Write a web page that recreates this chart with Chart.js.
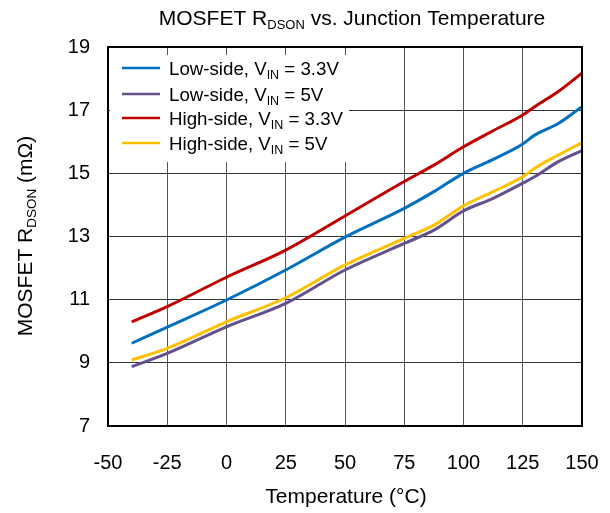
<!DOCTYPE html>
<html>
<head>
<meta charset="utf-8">
<script src="https://cdn.jsdelivr.net/npm/chart.js@4"></script>
<style>
  html, body { margin: 0; padding: 0; background: #fff; }
  #wrap { width: 610px; height: 513px; }
</style>
</head>
<body>
<div id="wrap"><canvas id="rdsonChart" width="610" height="513"></canvas></div>
<script>
// temperature points (°C) and R_DSON readings (mΩ) for each curve
const temps       = [-40, -25, 0, 25, 50, 75, 87.5, 100, 112.5, 125, 130, 140, 150];
const lowSide33   = [9.62, 10.13, 10.99, 11.94, 12.98, 13.89, 14.42, 15.0, 15.44, 15.93, 16.21, 16.58, 17.11];
const lowSide5    = [8.88, 9.30, 10.14, 10.88, 11.94, 12.78, 13.20, 13.81, 14.21, 14.69, 14.89, 15.37, 15.72];
const highSide33  = [10.30, 10.78, 11.71, 12.57, 13.65, 14.74, 15.26, 15.84, 16.35, 16.85, 17.11, 17.59, 18.17];
const highSide5   = [9.09, 9.46, 10.30, 11.06, 12.10, 12.94, 13.36, 13.97, 14.42, 14.89, 15.16, 15.58, 15.97];

const xTicks = [-50, -25, 0, 25, 50, 75, 100, 125, 150];
const yTicks = [7, 9, 11, 13, 15, 17, 19];

// legend text: main part, subscript, rest
const seriesNames = [
    ['Low-side, V', 'IN', ' = 3.3V'],
    ['Low-side, V', 'IN', ' = 5V'],
    ['High-side, V', 'IN', ' = 3.3V'],
    ['High-side, V', 'IN', ' = 5V']
];
const seriesColors = ['#0070C0', '#64508A', '#C00000', '#FFC000'];
const seriesData = [lowSide33, lowSide5, highSide33, highSide5];

const FONT = '"Liberation Sans", Arial, sans-serif';

function toPoints(values) {
    return temps.map((t, i) => ({ x: t, y: values[i] }));
}

// draws text with a subscript piece, returns total width
function drawSubText(ctx, parts, x, y, size, subSize, align) {
    ctx.font = size + 'px ' + FONT;
    const w0 = ctx.measureText(parts[0]).width;
    const w2 = ctx.measureText(parts[2]).width;
    ctx.font = subSize + 'px ' + FONT;
    const w1 = ctx.measureText(parts[1]).width;
    const total = w0 + w1 + w2;
    let sx = align === 'center' ? x - total / 2 : x;
    ctx.textAlign = 'left';
    ctx.textBaseline = 'alphabetic';
    ctx.font = size + 'px ' + FONT;
    ctx.fillText(parts[0], sx, y);
    ctx.font = subSize + 'px ' + FONT;
    ctx.fillText(parts[1], sx + w0, y + size * 0.2);
    ctx.font = size + 'px ' + FONT;
    ctx.fillText(parts[2], sx + w0 + w1, y);
    return total;
}

const decorations = {
    id: 'decorations',
    beforeDatasetsDraw(chart) {
        const { ctx, chartArea: a } = chart;
        ctx.save();
        // legend background hides grid behind it
        ctx.fillStyle = '#fff';
        ctx.fillRect(a.left + 2, 55, 349 - a.left - 2, 107);
        ctx.restore();
    },
    afterDraw(chart) {
        const { ctx, chartArea: a } = chart;
        ctx.save();
        ctx.fillStyle = '#000';

        // title
        drawSubText(ctx, ['MOSFET R', 'DSON', ' vs. Junction Temperature'], 352, 25, 21, 13, 'center');

        // x axis title
        ctx.font = '21px ' + FONT;
        ctx.textAlign = 'center';
        ctx.textBaseline = 'alphabetic';
        ctx.fillText('Temperature (\u00B0C)', 346, 503);

        // y axis title (rotated)
        ctx.save();
        ctx.translate(32, 236);
        ctx.rotate(-Math.PI / 2);
        drawSubText(ctx, ['MOSFET R', 'DSON', ' (m\u03A9)'], 0, 0, 21, 13.5, 'center');
        ctx.restore();

        // legend
        const rowY = [68, 94, 118, 143];
        seriesNames.forEach((parts, i) => {
            ctx.strokeStyle = seriesColors[i];
            ctx.lineWidth = 2.5;
            ctx.beginPath();
            ctx.moveTo(122, rowY[i]);
            ctx.lineTo(160, rowY[i]);
            ctx.stroke();
            ctx.fillStyle = '#000';
            drawSubText(ctx, parts, 169, rowY[i] + 7, 18.7, 12.5, 'left');
        });

        // plot frame
        ctx.strokeStyle = '#000';
        ctx.lineWidth = 2;
        ctx.strokeRect(a.left, a.top, a.right - a.left, a.bottom - a.top);
        ctx.restore();
    }
};

const ctx = document.getElementById('rdsonChart').getContext('2d');

new Chart(ctx, {
    type: 'line',
    data: {
        datasets: seriesData.map((vals, i) => ({
            label: seriesNames[i].join(''),
            data: toPoints(vals),
            borderColor: seriesColors[i],
            borderWidth: 3,
            pointRadius: 0,
            fill: false,
            cubicInterpolationMode: 'monotone'
        }))
    },
    options: {
        responsive: false,
        animation: false,
        layout: { padding: { left: 0, top: 47, right: 28, bottom: 0 } },
        plugins: {
            legend: { display: false },
            title: { display: false },
            tooltip: { enabled: false }
        },
        scales: {
            x: {
                type: 'linear',
                min: -50,
                max: 150,
                afterBuildTicks: scale => { scale.ticks = xTicks.map(v => ({ value: v })); },
                afterFit: scale => {
                    scale.height = 87;
                    scale.paddingLeft = 0;
                    scale.paddingRight = 0;
                },
                grid: { color: '#555', lineWidth: 1, drawTicks: false },
                border: { display: false },
                ticks: {
                    color: '#000',
                    padding: 25,
                    maxRotation: 0,
                    font: { family: FONT, size: 20 }
                }
            },
            y: {
                min: 7,
                max: 19,
                afterBuildTicks: scale => { scale.ticks = yTicks.map(v => ({ value: v })); },
                afterFit: scale => {
                    scale.width = 108;
                    scale.paddingTop = 0;
                    scale.paddingBottom = 0;
                },
                grid: { color: '#333', lineWidth: 1, drawTicks: false },
                border: { display: false },
                ticks: {
                    color: '#000',
                    padding: 18,
                    font: { family: FONT, size: 20 }
                }
            }
        }
    },
    plugins: [decorations]
});
</script>
</body>
</html>
